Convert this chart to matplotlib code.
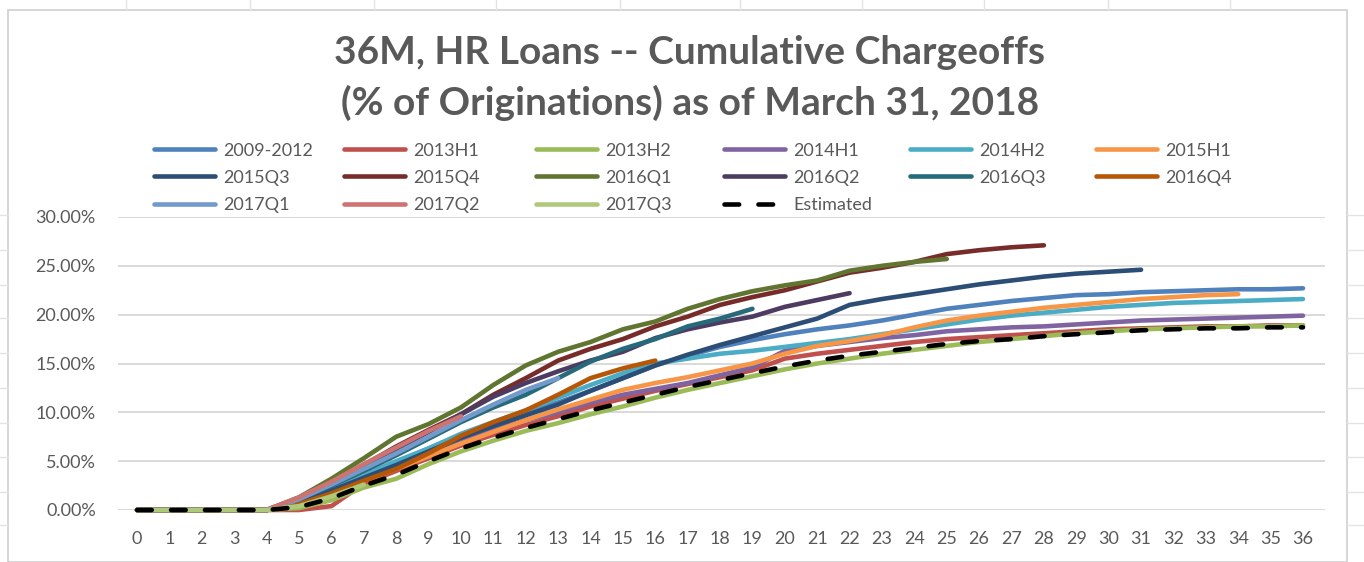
import matplotlib
matplotlib.use("Agg")
import matplotlib.pyplot as plt
from matplotlib.lines import Line2D
from matplotlib.patches import Rectangle
from matplotlib.ticker import FuncFormatter

W, H = 1364, 562

# cumulative chargeoffs (% of originations) by month on book
VINTAGES = ["2009-2012", "2013H1", "2013H2", "2014H1", "2014H2", "2015H1",
            "2015Q3", "2015Q4", "2016Q1", "2016Q2", "2016Q3", "2016Q4",
            "2017Q1", "2017Q2", "2017Q3"]

V_2009_2012 = [0, 0, 0, 0, 0, 0.9, 2.2, 3.5, 4.9, 6.3, 7.7, 8.9, 10.0, 11.0, 12.2, 13.5,
               14.8, 15.8, 16.7, 17.4, 18.0, 18.5, 18.9, 19.4, 20.0, 20.6, 21.0, 21.4,
               21.7, 22.0, 22.1, 22.3, 22.4, 22.5, 22.6, 22.6, 22.7]
V_2013H1 = [0, 0, 0, 0, 0, 0, 0.4, 2.7, 4.0, 5.3, 6.6, 7.7, 8.7, 9.6, 10.6, 11.4, 12.2,
            12.9, 13.6, 14.3, 15.5, 16.0, 16.4, 16.8, 17.2, 17.5, 17.7, 17.9, 18.1, 18.3,
            18.5, 18.6, 18.7, 18.8, 18.8, 18.9, 18.9]
V_2013H2 = [0, 0, 0, 0, 0, 0.2, 1.0, 2.3, 3.2, 4.7, 6.0, 7.1, 8.1, 8.9, 9.8, 10.6, 11.5,
            12.3, 13.0, 13.7, 14.4, 15.0, 15.5, 16.0, 16.4, 16.8, 17.2, 17.5, 17.8, 18.1,
            18.3, 18.5, 18.6, 18.7, 18.8, 18.8, 18.9]
V_2014H1 = [0, 0, 0, 0, 0, 0.8, 2.0, 3.2, 4.5, 5.7, 7.0, 8.2, 9.2, 10.0, 11.0, 11.8, 12.4,
            13.0, 13.8, 14.6, 16.3, 16.8, 17.2, 17.6, 17.9, 18.3, 18.5, 18.7, 18.8, 19.0,
            19.2, 19.4, 19.5, 19.6, 19.7, 19.8, 19.9]
V_2014H2 = [0, 0, 0, 0, 0, 1.0, 2.3, 3.6, 5.0, 6.3, 7.8, 9.0, 10.2, 11.5, 12.8, 14.0, 15.0,
            15.5, 16.0, 16.3, 16.7, 17.1, 17.5, 18.0, 18.5, 19.0, 19.5, 19.9, 20.2, 20.5,
            20.8, 21.0, 21.2, 21.3, 21.4, 21.5, 21.6]
V_2015H1 = [0, 0, 0, 0, 0, 0.6, 1.8, 3.0, 4.2, 5.5, 6.8, 8.0, 9.2, 10.3, 11.3, 12.3, 13.0,
            13.6, 14.3, 15.0, 16.0, 16.8, 17.3, 17.9, 18.7, 19.4, 19.9, 20.3, 20.7, 21.0,
            21.3, 21.6, 21.8, 22.0, 22.1]
V_2015Q3 = [0, 0, 0, 0, 0, 0.8, 2.0, 3.3, 4.6, 6.0, 7.4, 8.6, 9.7, 10.8, 12.2, 13.5, 14.8,
            15.9, 16.9, 17.8, 18.7, 19.6, 21.0, 21.6, 22.1, 22.6, 23.1, 23.5, 23.9, 24.2,
            24.4, 24.6]
V_2015Q4 = [0, 0, 0, 0, 0, 1.2, 2.8, 4.6, 6.5, 8.2, 9.8, 11.8, 13.5, 15.3, 16.5, 17.5, 18.8,
            19.8, 21.0, 21.8, 22.5, 23.4, 24.3, 24.8, 25.4, 26.2, 26.6, 26.9, 27.1]
V_2016Q1 = [0, 0, 0, 0, 0, 1.3, 3.2, 5.3, 7.5, 8.8, 10.5, 12.8, 14.8, 16.2, 17.2, 18.5,
            19.3, 20.6, 21.6, 22.4, 23.0, 23.5, 24.5, 25.0, 25.4, 25.7]
V_2016Q2 = [0, 0, 0, 0, 0, 1.0, 2.6, 4.4, 6.2, 8.0, 9.8, 11.6, 13.0, 14.2, 15.3, 16.2,
            17.6, 18.5, 19.2, 19.8, 20.8, 21.5, 22.2]
V_2016Q3 = [0, 0, 0, 0, 0, 1.1, 2.5, 4.0, 5.6, 7.3, 9.0, 10.5, 11.8, 13.5, 15.2, 16.5,
            17.5, 18.8, 19.6, 20.6]
V_2016Q4 = [0, 0, 0, 0, 0, 0.6, 1.7, 3.0, 4.2, 5.8, 7.6, 9.0, 10.2, 11.8, 13.5, 14.5, 15.3]
V_2017Q1 = [0, 0, 0, 0, 0, 1.1, 2.6, 4.2, 5.8, 7.5, 9.2, 10.8, 12.3, 13.5]
V_2017Q2 = [0, 0, 0, 0, 0, 1.3, 2.9, 4.7, 6.4, 8.1, 9.6]
V_2017Q3 = [0, 0, 0, 0, 0, 0.4, 1.4, 2.6]

ESTIMATED = [0, 0, 0, 0, 0, 0.3, 1.2, 2.5, 3.6, 5.0, 6.3, 7.4, 8.4, 9.3, 10.2, 11.0, 11.8,
             12.6, 13.3, 14.0, 14.7, 15.3, 15.8, 16.2, 16.6, 17.0, 17.3, 17.5, 17.8, 18.0,
             18.2, 18.4, 18.5, 18.6, 18.6, 18.7, 18.7]

SERIES = [V_2009_2012, V_2013H1, V_2013H2, V_2014H1, V_2014H2, V_2015H1,
          V_2015Q3, V_2015Q4, V_2016Q1, V_2016Q2, V_2016Q3, V_2016Q4,
          V_2017Q1, V_2017Q2, V_2017Q3]

COLORS = ["#4F81BD", "#C0504D", "#9BBB59", "#8064A2", "#4BACC6", "#F79646",
          "#2C4D75", "#772C2A", "#5F7530", "#4D3B62", "#276A7C", "#B65708",
          "#729ACA", "#CD7371", "#AFC97A"]

MONTHS = list(range(0, 37))
Y_TICKS = [0, 5, 10, 15, 20, 25, 30]

TEXT_COLOR = "#595959"
GRID_COLOR = "#D9D9D9"
FONT = "Lato"


def px(x, y):
    # pixel position (from top left) -> figure fraction
    return x / W, 1 - y / H


fig = plt.figure(figsize=(W / 100, H / 100), dpi=100)
fig.patch.set_facecolor("white")

# spreadsheet cells behind the chart
for cx in [126, 250, 374, 496, 620, 740, 862, 984, 1108, 1230]:
    fig.add_artist(Line2D([cx / W, cx / W], [1 - 0 / H, 1 - 10 / H],
                          transform=fig.transFigure, color="#E3E3E3", lw=1))
for ry in [215, 250, 285, 318, 353, 388, 423, 457, 492, 525]:
    fig.add_artist(Line2D([0, 8 / W], [1 - ry / H] * 2,
                          transform=fig.transFigure, color="#E3E3E3", lw=1))
    fig.add_artist(Line2D([1347 / W, 1], [1 - ry / H] * 2,
                          transform=fig.transFigure, color="#E3E3E3", lw=1))
fig.add_artist(Rectangle(px(8, 562), 1339 / W, 552 / H, transform=fig.transFigure,
                         fill=False, edgecolor="#D0D0D0", lw=1.2))

ax = fig.add_axes([118 / W, 52 / H, 1207 / W, 293 / H])
ax.set_facecolor("none")

lines = []
for name, vals, col in zip(VINTAGES, SERIES, COLORS):
    ln, = ax.plot(MONTHS[:len(vals)], vals, color=col, lw=3.3,
                  solid_capstyle="round", clip_on=False, label=name, zorder=3)
    lines.append(ln)
est, = ax.plot(MONTHS, ESTIMATED, color="black", lw=3.3, ls=(0, (3.2, 4.2)),
               dash_capstyle="round", clip_on=False, label="Estimated", zorder=4)

ax.set_xlim(-0.59, 36.68)
ax.set_ylim(0, 30)
ax.set_xticks(MONTHS)
ax.set_yticks(Y_TICKS)
ax.yaxis.set_major_formatter(FuncFormatter(lambda v, p: f"{v:.2f}%"))
ax.grid(axis="y", color=GRID_COLOR, lw=1.4, zorder=0)
ax.set_axisbelow(True)
for s in ax.spines.values():
    s.set_visible(False)
ax.tick_params(length=0, labelcolor=TEXT_COLOR, labelsize=13)
ax.tick_params(axis="y", pad=16)
ax.tick_params(axis="x", pad=15)
for lab in ax.get_xticklabels() + ax.get_yticklabels():
    lab.set_fontfamily(FONT)

# title (two centred lines)
fig.text(*px(690, 53), "36M, HR Loans -- Cumulative Chargeoffs", ha="center",
         va="center", fontsize=28, fontweight="bold", color=TEXT_COLOR, family=FONT)
fig.text(*px(690, 103), "(% of Originations) as of March 31, 2018", ha="center",
         va="center", fontsize=28, fontweight="bold", color=TEXT_COLOR, family=FONT)

# legend: six equally spaced columns, filled row by row like Excel
handles = lines + [est]
ncol = 6
col_x = [150, 340, 532, 720, 906, 1092]
for j in range(ncol):
    hs = handles[j::ncol]
    leg = fig.legend(handles=hs, labels=[h.get_label() for h in hs],
                     loc="upper left", bbox_to_anchor=px(col_x[j], 139),
                     frameon=False, handlelength=3.4, handletextpad=0.45,
                     labelspacing=0.62, borderaxespad=0, borderpad=0.2,
                     prop={"family": FONT, "size": 13})
    for t in leg.get_texts():
        t.set_color(TEXT_COLOR)

fig.savefig("out.png", dpi=100, facecolor="white")
